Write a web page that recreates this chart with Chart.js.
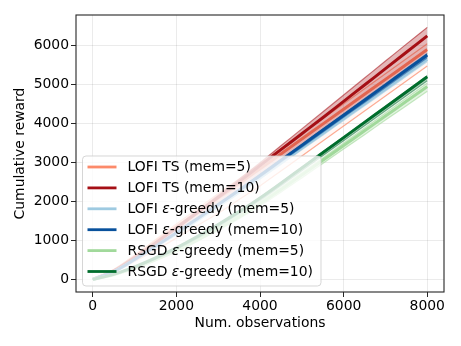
<!DOCTYPE html>
<html>
<head>
<meta charset="utf-8">
<script src="https://cdn.jsdelivr.net/npm/chart.js@4.4.1/dist/chart.umd.min.js"></script>
<style>
html,body{margin:0;padding:0;background:#fff;}
#wrap{width:461px;height:346px;position:relative;}
</style>
</head>
<body>
<div id="wrap"><canvas id="c" width="461" height="346"></canvas></div>
<script>
// ---- data ----
const observations = [0,500,1000,1500,2000,2500,3000,3500,4000,4500,5000,5500,6000,6500,7000,7500,8000];

const tsMem5Mean  = [0,230,590,970,1350,1720,2090,2460,2837,3220,3603,3986,4369,4752,5135,5517,5900];
const tsMem5Lo    = [0,190,460,750,1060,1380,1700,2050,2400,2784,3169,3554,3939,4324,4710,5095,5480];
const tsMem5Hi    = [0,240,620,1020,1420,1810,2200,2580,2970,3355,3740,4125,4510,4895,5280,5665,6050];

const tsMem10Mean = [0,220,560,930,1320,1710,2110,2510,2920,3330,3740,4150,4570,4990,5410,5830,6250];
const tsMem10Lo   = [0,200,510,850,1190,1550,1910,2280,2650,3030,3410,3790,4175,4560,4945,5330,5720];
const tsMem10Hi   = [0,230,580,960,1360,1760,2160,2570,2994,3429,3864,4299,4734,5169,5604,6040,6470];

const epsMem5Mean  = [0,195,500,830,1170,1520,1880,2240,2610,2990,3370,3750,4130,4510,4890,5270,5650];
const epsMem5Lo    = [0,195,495,820,1155,1500,1855,2210,2575,2950,3327,3703,4080,4457,4835,5212,5590];
const epsMem5Hi    = [0,195,505,840,1185,1540,1905,2270,2645,3030,3413,3797,4180,4563,4945,5328,5710];

const epsMem10Mean = [0,200,510,850,1200,1560,1920,2290,2668,3055,3441,3828,4214,4601,4987,5374,5760];
const epsMem10Lo   = [0,200,505,840,1185,1540,1895,2260,2630,3012,3395,3778,4160,4543,4925,5308,5690];
const epsMem10Hi   = [0,200,515,860,1210,1575,1940,2315,2695,3084,3472,3860,4248,4636,5024,5412,5800];

const rsgdMem5Mean = [0,120,290,500,740,1010,1300,1610,1950,2310,2680,3058,3437,3814,4193,4571,4950];
const rsgdMem5Lo   = [0,115,280,485,715,975,1260,1560,1890,2240,2605,2975,3345,3715,4090,4460,4830];
const rsgdMem5Hi   = [0,122,295,515,765,1040,1335,1650,1995,2360,2735,3115,3500,3885,4270,4655,5040];

const rsgdMem10Mean = [0,130,320,550,810,1100,1410,1740,2090,2470,2860,3250,3640,4030,4420,4810,5200];
const rsgdMem10Lo   = [0,120,300,520,770,1055,1360,1685,2030,2405,2790,3175,3560,3945,4330,4715,5100];
const rsgdMem10Hi   = [0,131,323,555,817,1108,1420,1752,2104,2486,2878,3270,3662,4054,4446,4838,5230];

const seriesLabels = [
  ['LOFI TS (mem=5)'],
  ['LOFI TS (mem=10)'],
  ['LOFI ', 'ε', '-greedy (mem=5)'],
  ['LOFI ', 'ε', '-greedy (mem=10)'],
  ['RSGD ', 'ε', '-greedy (mem=5)'],
  ['RSGD ', 'ε', '-greedy (mem=10)']
];
const xTicks = [0,2000,4000,6000,8000];
const yTicks = [0,1000,2000,3000,4000,5000,6000];

// ---- styles ----
const seriesData = [
  [tsMem5Mean, tsMem5Lo, tsMem5Hi],
  [tsMem10Mean, tsMem10Lo, tsMem10Hi],
  [epsMem5Mean, epsMem5Lo, epsMem5Hi],
  [epsMem10Mean, epsMem10Lo, epsMem10Hi],
  [rsgdMem5Mean, rsgdMem5Lo, rsgdMem5Hi],
  [rsgdMem10Mean, rsgdMem10Lo, rsgdMem10Hi]
];
const colors = [
  [252,138,106],
  [165,15,21],
  [158,202,225],
  [8,81,156],
  [161,217,155],
  [0,109,44]
];
const edgeAlpha = [0.7, 0.55, 0.6, 0.5, 0.6, 0.5];
const fillAlpha = [0.06, 0.3, 0.3, 0.3, 0.3, 0.3];
const rgba = (c,a) => `rgba(${c[0]},${c[1]},${c[2]},${a})`;
const FONT = 'DejaVu Sans';
const FS = 13.9;

const datasets = [];
seriesData.forEach((s, i) => {
  const pts = arr => observations.map((x, k) => ({x, y: arr[k]}));
  const base = datasets.length;
  const common = {pointRadius: 0, cubicInterpolationMode: 'monotone', borderJoinStyle: 'round'};
  datasets.push(Object.assign({}, common, {
    label: 'lo' + i, data: pts(s[1]), borderColor: rgba(colors[i], edgeAlpha[i]), borderWidth: 1.2, fill: false, order: 100 - base
  }));
  datasets.push(Object.assign({}, common, {
    label: 'hi' + i, data: pts(s[2]), borderColor: rgba(colors[i], edgeAlpha[i]), borderWidth: 1.2,
    backgroundColor: rgba(colors[i], fillAlpha[i]), fill: '-1', order: 100 - base - 1
  }));
  datasets.push(Object.assign({}, common, {
    label: seriesLabels[i].join(''), data: pts(s[0]), borderColor: rgba(colors[i], 1), borderWidth: 3, fill: false, order: 100 - base - 2
  }));
});

const framePlugin = {
  id: 'frame',
  afterDraw(chart) {
    const {ctx, chartArea: a} = chart;
    ctx.save();
    ctx.strokeStyle = '#262626';
    ctx.lineWidth = 1.1;
    ctx.strokeRect(a.left, a.top, a.right - a.left, a.bottom - a.top);

    // legend
    const lx = 82.5, ly = 156, lw = 238.5, lh = 130, r = 3.5;
    ctx.beginPath();
    ctx.moveTo(lx + r, ly);
    ctx.arcTo(lx + lw, ly, lx + lw, ly + lh, r);
    ctx.arcTo(lx + lw, ly + lh, lx, ly + lh, r);
    ctx.arcTo(lx, ly + lh, lx, ly, r);
    ctx.arcTo(lx, ly, lx + lw, ly, r);
    ctx.closePath();
    ctx.fillStyle = 'rgba(255,255,255,0.8)';
    ctx.fill();
    ctx.strokeStyle = 'rgba(204,204,204,0.8)';
    ctx.lineWidth = 1;
    ctx.stroke();

    const rowY0 = 167, rowDy = 20.9;
    seriesLabels.forEach((parts, i) => {
      const y = rowY0 + i * rowDy;
      ctx.beginPath();
      ctx.moveTo(87.5, y);
      ctx.lineTo(116.5, y);
      ctx.strokeStyle = rgba(colors[i], 1);
      ctx.lineWidth = 2.8;
      ctx.stroke();
      let x = 127.5;
      ctx.fillStyle = '#000';
      ctx.textBaseline = 'middle';
      ctx.textAlign = 'left';
      parts.forEach(p => {
        ctx.font = (p === 'ε' ? 'italic ' : '') + FS + 'px "' + FONT + '"';
        ctx.fillText(p, x, y + 0.5);
        x += ctx.measureText(p).width;
      });
    });
    ctx.restore();
  }
};

new Chart(document.getElementById('c'), {
  type: 'line',
  data: {datasets},
  options: {
    responsive: false,
    animation: false,
    events: [],
    layout: {padding: {top: 15, right: 17, left: 0, bottom: 0}},
    plugins: {legend: {display: false}, tooltip: {enabled: false}, filler: {propagate: false}},
    scales: {
      x: {
        type: 'linear', min: -400, max: 8400,
        afterBuildTicks: s => { s.ticks = xTicks.map(v => ({value: v})); },
        afterFit: s => { s.height = 54; },
        ticks: {font: {family: FONT, size: FS}, color: '#000', padding: 1, maxRotation: 0, autoSkip: false, callback: v => String(v)},
        grid: {color: 'rgba(0,0,0,0.08)', tickColor: '#262626', tickLength: 5, lineWidth: 1},
        border: {display: false},
        title: {display: true, text: 'Num. observations', font: {family: FONT, size: FS}, color: '#000', padding: {top: 0, bottom: 14}}
      },
      y: {
        type: 'linear', min: -323, max: 6787,
        afterBuildTicks: s => { s.ticks = yTicks.map(v => ({value: v})); },
        afterFit: s => { s.width = 76; },
        ticks: {font: {family: FONT, size: FS}, color: '#000', padding: 2, callback: v => String(v)},
        grid: {color: 'rgba(0,0,0,0.08)', tickColor: '#262626', tickLength: 5, lineWidth: 1},
        border: {display: false},
        title: {display: true, text: 'Cumulative reward', font: {family: FONT, size: FS}, color: '#000', padding: {top: 12, bottom: 0}}
      }
    }
  },
  plugins: [framePlugin]
});
</script>
</body>
</html>
